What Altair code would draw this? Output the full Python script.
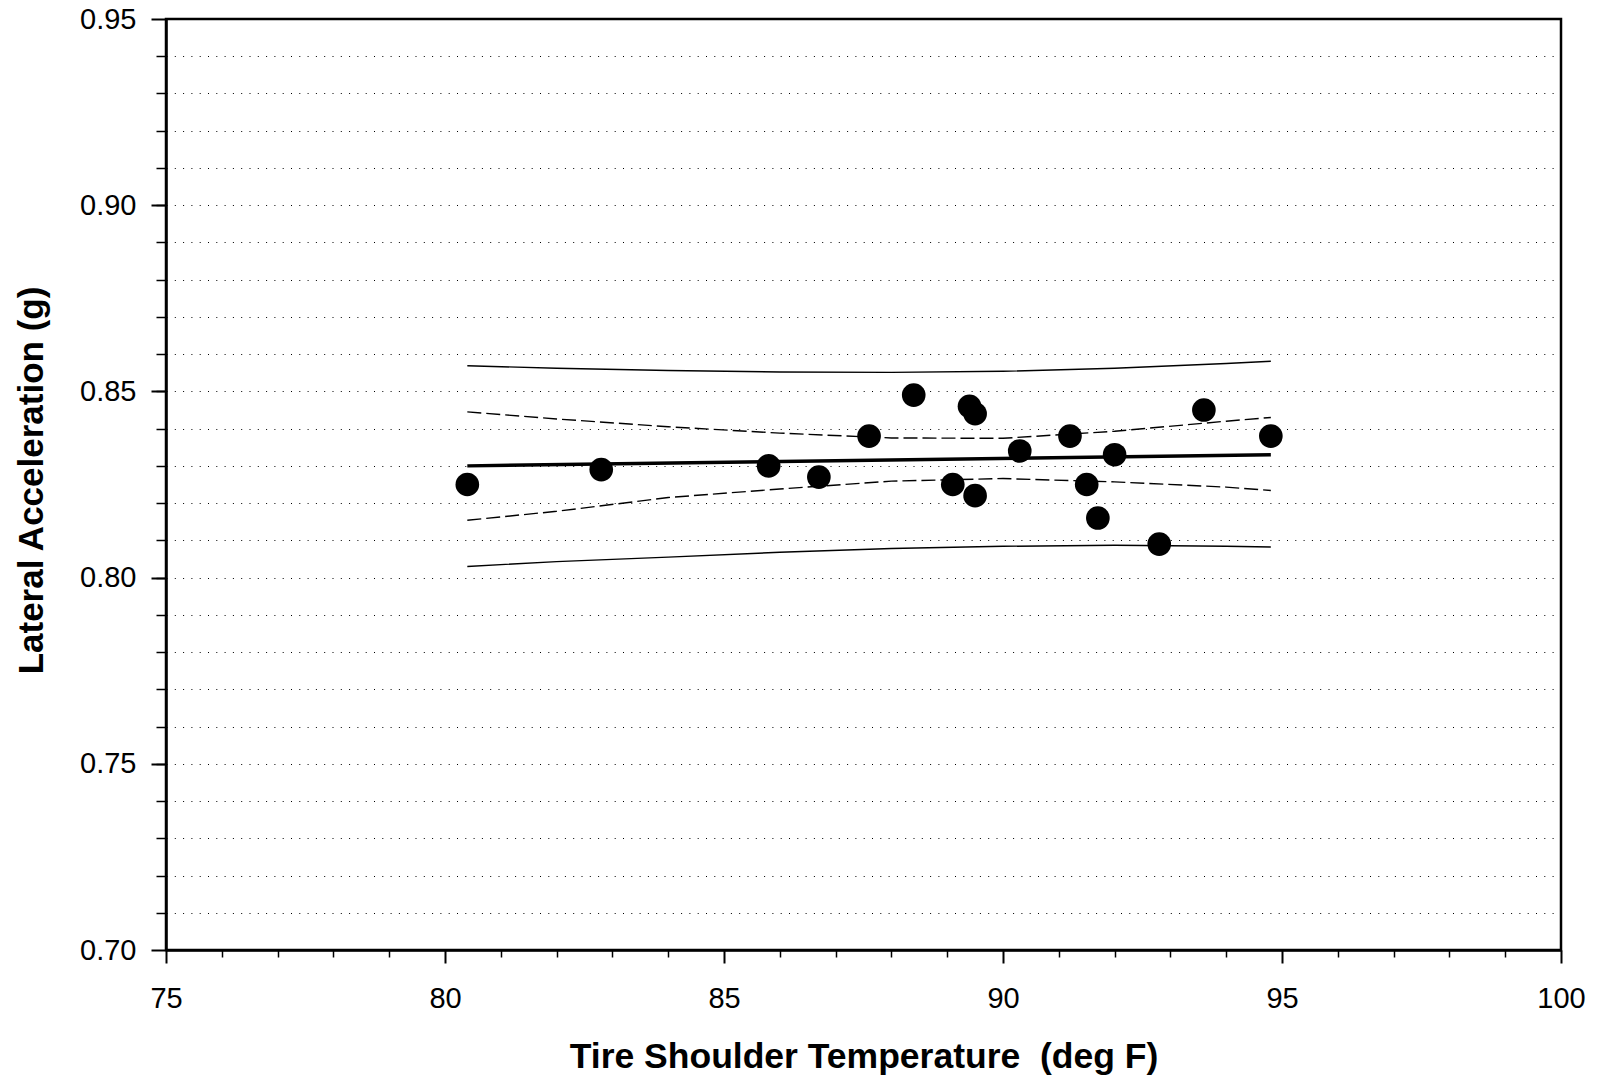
import altair as alt
import pandas as pd

# ---- data ----
temps = [80.4, 82.8, 85.8, 86.7, 87.6, 88.4, 89.1, 89.4, 89.5, 89.5,
         90.3, 91.2, 91.5, 91.7, 92.0, 92.8, 93.6, 94.8]
accels = [0.825, 0.829, 0.830, 0.827, 0.838, 0.849, 0.825, 0.846, 0.844, 0.822,
          0.834, 0.838, 0.825, 0.816, 0.833, 0.809, 0.845, 0.838]

fit_x = [80.4, 94.8]
fit_y = [0.8300, 0.8330]

band_x = [80.4, 82, 84, 86, 88, 90, 92, 94, 94.8]
ci_upper = [0.8445, 0.8426, 0.8405, 0.8388, 0.8375, 0.8374, 0.8393, 0.8420, 0.8430]
ci_lower = [0.8154, 0.8178, 0.8215, 0.8238, 0.8259, 0.8266, 0.8257, 0.8243, 0.8234]
pi_upper = [0.8569, 0.8562, 0.8556, 0.8552, 0.8551, 0.8554, 0.8562, 0.8575, 0.8581]
pi_lower = [0.8030, 0.8043, 0.8055, 0.8068, 0.8078, 0.8084, 0.8087, 0.8084, 0.8082]

x_major_ticks = [75, 80, 85, 90, 95, 100]
x_minor_ticks = [76, 77, 78, 79, 81, 82, 83, 84, 86, 87, 88, 89,
                 91, 92, 93, 94, 96, 97, 98, 99]
y_major_ticks = [0.70, 0.75, 0.80, 0.85, 0.90, 0.95]
y_minor_ticks = [0.71, 0.72, 0.73, 0.74, 0.75, 0.76, 0.77, 0.78, 0.79, 0.80,
                 0.81, 0.82, 0.83, 0.84, 0.85, 0.86, 0.87, 0.88, 0.89, 0.90,
                 0.91, 0.92, 0.93, 0.94]

pts = pd.DataFrame({"x": temps, "y": accels})
fit = pd.DataFrame({"x": fit_x, "y": fit_y})
ci = pd.DataFrame({
    "x": band_x + band_x,
    "y": ci_upper + ci_lower,
    "bound": ["upper"] * len(band_x) + ["lower"] * len(band_x),
})
pi = pd.DataFrame({
    "x": band_x + band_x,
    "y": pi_upper + pi_lower,
    "bound": ["upper"] * len(band_x) + ["lower"] * len(band_x),
})

FONT = "Liberation Sans"
xscale = alt.Scale(domain=[75, 100], nice=False, zero=False)
yscale = alt.Scale(domain=[0.70, 0.95], nice=False, zero=False)

x_major_axis = alt.Axis(
    orient="bottom", values=x_major_ticks, format="d", grid=False,
    tickSize=13, tickWidth=2, tickColor="black",
    domainColor="black", domainWidth=2.5,
    labelFont=FONT, labelFontSize=29, labelColor="black",
    labelPadding=44, labelBaseline="alphabetic", labelFlush=False,
    labelOverlap=False,
    title="Tire Shoulder Temperature\u00a0 (deg F)",
    titleFont=FONT, titleFontSize=35.5, titleFontWeight="bold", titleColor="black",
    titleBaseline="alphabetic", titleY=117,
)
x_minor_axis = alt.Axis(
    orient="bottom", values=x_minor_ticks, grid=False, labels=False,
    tickSize=7, tickWidth=1.5, tickColor="black", domain=False, title="",
)
y_major_axis = alt.Axis(
    orient="left", values=y_major_ticks, format=".2f", grid=False,
    tickSize=15, tickWidth=2, tickColor="black",
    domainColor="black", domainWidth=2.5,
    labelFont=FONT, labelFontSize=29, labelColor="black", labelPadding=15,
    labelFlush=False, labelOverlap=False,
    title="Lateral Acceleration (g)",
    titleFont=FONT, titleFontSize=35, titleFontWeight="bold", titleColor="black",
    titleAngle=270, titleAlign="center", titleBaseline="alphabetic",
    titleX=-124, titleY=461,
)
y_minor_axis = alt.Axis(
    orient="left", values=y_minor_ticks, grid=True, labels=False,
    gridColor="black", gridWidth=1, gridDash=[1, 7.3], gridOpacity=1,
    tickSize=10, tickWidth=1.5, tickColor="black", domain=False, title="",
)

points = alt.Chart(pts).mark_circle(size=560, color="black", opacity=1).encode(
    x=alt.X("x:Q", scale=xscale, axis=x_major_axis),
    y=alt.Y("y:Q", scale=yscale, axis=y_major_axis),
)

pi_lines = alt.Chart(pi).mark_line(color="black", strokeWidth=1.4).encode(
    x=alt.X("x:Q", scale=xscale, axis=x_minor_axis),
    y=alt.Y("y:Q", scale=yscale, axis=y_minor_axis),
    detail="bound:N",
)

ci_lines = alt.Chart(ci).mark_line(color="black", strokeWidth=1.4, strokeDash=[14, 5]).encode(
    x=alt.X("x:Q", scale=xscale, axis=None),
    y=alt.Y("y:Q", scale=yscale, axis=None),
    detail="bound:N",
)

fit_line = alt.Chart(fit).mark_line(color="black", strokeWidth=3.4).encode(
    x=alt.X("x:Q", scale=xscale, axis=None),
    y=alt.Y("y:Q", scale=yscale, axis=None),
)

chart = alt.layer(pi_lines, ci_lines, fit_line, points).resolve_axis(
    x="independent", y="independent"
).properties(
    width=1395,
    height=931,
    autosize=alt.AutoSizeParams(type="none"),
    padding={"left": 158, "top": 11, "right": 30, "bottom": 128},
    background="white",
).configure(
    font=FONT
).configure_view(
    stroke="black", strokeWidth=2.5
)

chart.save("out.html", embed_options={"renderer": "svg", "actions": False})
